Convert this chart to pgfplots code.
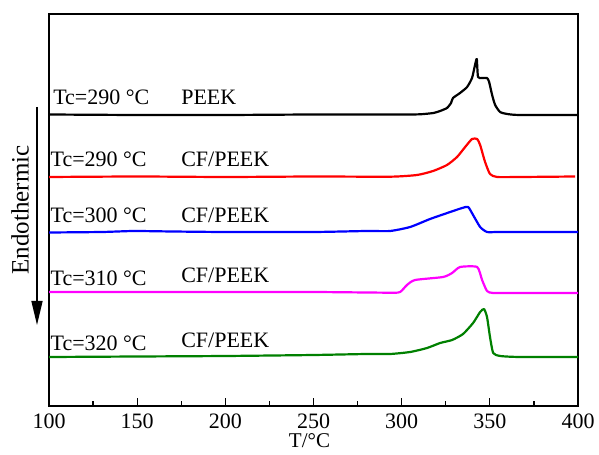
\documentclass[border=0pt]{standalone}
\usepackage{fontspec}
\setmainfont{Liberation Serif}
\usepackage{pgfplots}
\pgfplotsset{compat=1.18}
\usetikzlibrary{arrows.meta}
\definecolor{cgreen}{RGB}{0,128,0}
\definecolor{cmag}{RGB}{255,0,255}
\begin{document}
\begin{tikzpicture}
\begin{axis}[
  at={(0,0)}, anchor=south west,
  scale only axis, width=529bp, height=392bp,
  xmin=100, xmax=400, ymin=0, ymax=392,
  xtick={100,150,...,400}, minor x tick num=1,
  ytick=\empty,
  xtick pos=left, tick align=inside,
  major tick length=8bp, minor tick length=5bp,
  every tick/.style={line width=1.3bp, black},
  axis line style={line width=1.6bp},
  /pgf/number format/assume math mode=true,
  font=\fontsize{22bp}{26bp}\selectfont,
  xticklabel style={font=\fontsize{22bp}{26bp}\selectfont, yshift=-4bp},
  xlabel={T/°C},
  xlabel style={at={(axis description cs:0.5,0)}, anchor=north, yshift=-27bp, inner sep=0pt, xshift=-4bp, font=\fontsize{21bp}{24bp}\selectfont},
  every axis plot/.append style={line width=2.2bp, line join=round, smooth, tension=0.35},
]
% PEEK, Tc=290
\addplot[black] coordinates {(100,291.5)(150,291)(200,291)(250,291.5)(300,291.5)(310.4,291.7)(318,293)(321.8,295)(325.7,298)(328,303)(329.1,308)(333.1,313)(337.1,319)(339.9,328)(341.6,341)(342.6,347)(343.3,329)(345.6,328)(348.4,328)(349.6,324)(351.3,311)(353,301)(355.8,294)(359.8,292)(367,291)(400,291)};
% CF/PEEK Tc=290
\addplot[red] coordinates {(100,229)(150,229.5)(200,229)(250,229.5)(293.4,229.3)(308.7,231)(317.8,235)(325.7,241)(331.4,249)(336,259)(339.9,267)(342.8,267)(344.5,261)(347.3,244)(350.1,232)(354.1,229)(367,229)(398.4,229.5)};
% CF/PEEK Tc=300
\addplot[blue] coordinates {(100,173.5)(130,174)(148,175)(170,174.5)(200,174)(250,174)(280,175)(293.4,175)(304.8,179)(316.1,187)(327.5,194)(334.3,198)(337.7,199)(340.5,191)(344.5,179)(348.4,174)(354.1,174)(367,174)(400,174)};
% CF/PEEK Tc=310
\addplot[cmag] coordinates {(100,114)(200,114)(250,114)(293.4,113.3)(299.1,114)(303,121)(307.6,126)(323.5,129)(328.6,133)(333.1,139)(342.8,139)(345.6,126)(348.4,115)(351.9,113)(367,113)(400,113)};
% CF/PEEK Tc=320
\addplot[cgreen] coordinates {(100,49)(150,49.5)(200,50)(250,51)(280,52)(293.4,52)(304.8,54)(314.4,58)(321.8,63)(328.6,66)(334.8,72)(340.5,83)(344.5,94)(346.7,97)(348.4,89)(350.1,69)(351.9,53)(355.8,50)(367,49)(400,49)};
\begin{scope}[every node/.style={anchor=base west, inner sep=0pt, font=\fontsize{22bp}{26bp}\selectfont}]
\node at (axis cs:102.3,301) {Tc=290 °C};
\node at (axis cs:174.9,301) {PEEK};
\node at (axis cs:100.8,239) {Tc=290 °C};
\node at (axis cs:174.9,239) {CF/PEEK};
\node at (axis cs:100.8,183) {Tc=300 °C};
\node at (axis cs:174.9,183) {CF/PEEK};
\node at (axis cs:100.8,120) {Tc=310 °C};
\node at (axis cs:174.9,123) {CF/PEEK};
\node at (axis cs:100.8,56) {Tc=320 °C};
\node at (axis cs:174.9,59) {CF/PEEK};
\end{scope}
\end{axis}
\draw[line width=1.6bp, -{Triangle[width=11bp,length=24bp]}] (-12bp,299bp) -- (-12bp,81bp);
\node[rotate=90, inner sep=0pt, font=\fontsize{25bp}{30bp}\selectfont] at (-29bp,196bp) {Endothermic};
\pgfresetboundingbox
\useasboundingbox (-49bp,-49bp) rectangle (550bp,406bp);
\end{tikzpicture}
\end{document}
